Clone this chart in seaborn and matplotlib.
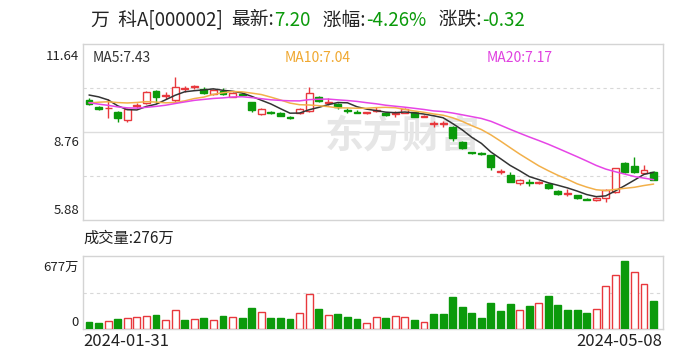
import numpy as np
import pandas as pd
import matplotlib
matplotlib.use("Agg")
from matplotlib import pyplot as plt
import seaborn as sns

# ---- data (60 trading days, 2024-01-31 .. 2024-05-08)
opens = [9.81, 9.57, 9.53, 9.40, 9.15, 9.61, 9.70, 10.11, 9.94, 9.81,
         10.18, 10.23, 10.17, 10.00, 10.11, 9.92, 10.00, 9.73, 9.35, 9.41,
         9.37, 9.25, 9.37, 9.45, 9.90, 9.71, 9.68, 9.48, 9.41, 9.37,
         9.46, 9.39, 9.35, 9.39, 9.40, 9.26, 9.02, 9.02, 8.93, 8.44,
         8.09, 8.07, 8.01, 7.45, 7.35, 7.08, 7.12, 7.10, 7.06, 6.84,
         6.74, 6.70, 6.57, 6.53, 6.59, 6.81, 7.74, 7.65, 7.41, 7.46]
closes = [9.68, 9.50, 9.55, 9.23, 9.50, 9.63, 10.08, 9.90, 9.96, 10.24,
          10.20, 10.26, 10.03, 10.13, 10.00, 10.05, 9.97, 9.48, 9.50, 9.39,
          9.28, 9.23, 9.50, 10.04, 9.78, 9.73, 9.57, 9.46, 9.39, 9.40,
          9.48, 9.32, 9.37, 9.50, 9.26, 9.29, 9.04, 9.04, 8.55, 8.23,
          8.07, 8.05, 7.62, 7.47, 7.13, 7.19, 7.10, 7.12, 6.94, 6.73,
          6.76, 6.59, 6.55, 6.59, 6.86, 7.57, 7.46, 7.46, 7.52, 7.20]
highs = [9.87, 9.61, 9.84, 9.45, 9.55, 9.71, 10.10, 10.13, 10.08, 10.55,
         10.28, 10.30, 10.22, 10.17, 10.19, 10.07, 10.04, 9.74, 9.55, 9.46,
         9.40, 9.30, 9.55, 10.24, 9.94, 9.86, 9.71, 9.54, 9.48, 9.43,
         9.58, 9.41, 9.46, 9.56, 9.41, 9.32, 9.12, 9.12, 8.96, 8.47,
         8.12, 8.11, 8.02, 7.55, 7.46, 7.22, 7.22, 7.16, 7.09, 6.86,
         6.88, 6.71, 6.60, 6.62, 6.88, 7.58, 7.79, 7.95, 7.68, 7.50]
lows = [9.64, 9.48, 9.22, 9.10, 9.10, 9.55, 9.68, 9.72, 9.83, 9.75,
        10.08, 10.17, 9.99, 9.97, 9.97, 9.91, 9.94, 9.42, 9.32, 9.35,
        9.27, 9.17, 9.35, 9.41, 9.75, 9.64, 9.50, 9.38, 9.37, 9.35,
        9.41, 9.28, 9.25, 9.37, 9.25, 9.24, 8.92, 8.92, 8.48, 8.20,
        8.04, 8.02, 7.52, 7.39, 7.11, 7.04, 6.99, 7.06, 6.91, 6.71,
        6.67, 6.57, 6.52, 6.50, 6.48, 6.78, 7.41, 7.43, 7.39, 7.19]
# 1 = red (up) candle, 0 = green
candle_up = [0, 0, 1, 0, 1, 1, 1, 0, 1, 1, 1, 1, 0, 1, 0, 1, 0, 0, 1, 0,
             0, 0, 1, 1, 0, 1, 0, 0, 0, 1, 1, 0, 1, 1, 0, 1, 1, 1, 0, 0,
             0, 0, 0, 1, 0, 1, 0, 1, 0, 0, 1, 0, 0, 1, 1, 1, 0, 0, 1, 0]
# volume, in 万 shares
volume = [67, 57, 83, 100, 107, 117, 133, 140, 90, 190,
          90, 100, 110, 90, 127, 117, 110, 213, 167, 110,
          110, 100, 160, 350, 200, 140, 150, 123, 100, 60,
          117, 110, 127, 117, 90, 67, 150, 150, 317, 217,
          160, 110, 260, 183, 250, 193, 233, 260, 333, 240,
          193, 193, 160, 200, 433, 533, 677, 567, 450, 276]
vol_up = [0, 0, 1, 0, 1, 1, 1, 0, 1, 1, 0, 1, 0, 1, 0, 1, 0, 0, 1, 0,
          0, 0, 1, 1, 0, 1, 0, 0, 0, 1, 1, 0, 1, 1, 0, 1, 0, 0, 0, 0,
          0, 0, 0, 0, 0, 1, 0, 1, 0, 0, 0, 0, 0, 1, 1, 1, 0, 1, 1, 0]
# closes before the window, only needed to start the moving averages
prior_closes = [10.45, 10.35, 10.25, 10.13, 9.80, 9.55, 9.30, 9.20, 9.12, 9.15,
                9.25, 9.40, 9.50, 9.63, 9.47, 9.80, 10.05, 10.20, 10.12]
first_date = "2024-01-31"
last_date = "2024-05-08"
price_ticks = [11.64, 8.76, 5.88]

RED = "#e8383d"
GREEN = "#0b9a0b"
MA_COLORS = {"MA5": "#333333", "MA10": "#f2b04a", "MA20": "#e645e6"}

sns.set_theme(style="white")
plt.rcParams["font.family"] = ["Noto Sans CJK SC", "DejaVu Sans"]

n = len(closes)
df = pd.DataFrame({"i": np.arange(n), "open": opens, "close": closes,
                   "high": highs, "low": lows, "up": candle_up,
                   "vol": volume, "vol_up": vol_up})
allc = pd.Series(prior_closes + closes)
ma = pd.DataFrame({"i": np.arange(n)})
for k in (5, 10, 20):
    ma["MA%d" % k] = allc.rolling(k).mean().iloc[-n:].values
ma_long = ma.melt(id_vars="i", var_name="ma", value_name="price")

W, H = 699, 350
fig = plt.figure(figsize=(W / 100, H / 100), dpi=100)
ax = fig.add_axes([83 / W, 1 - 220 / H, 580 / W, 176 / H])
axv = fig.add_axes([83 / W, 1 - 329 / H, 580 / W, 73 / H])

for a in (ax, axv):
    for s in a.spines.values():
        s.set_color("#d4d4d4")
        s.set_linewidth(1)
    a.set_xticks([])
    a.set_yticks([])
    a.set_xlim(-0.63, 59.98)

# price panel
ax.set_ylim(5.88, 11.64)
ax.axhline(8.76, color="#dddddd", lw=1, zorder=0)
for g in (10.20, 7.32):
    ax.axhline(g, color="#d8d8d8", lw=0.8, ls=(0, (3, 3)), zorder=0)

ax.text(0.55, 0.47, "东方财富", transform=ax.transAxes, fontsize=28,
        fontweight="bold", color="#e6e6e6", ha="center", va="center", zorder=0)

bw = 0.72
for r in df.itertuples():
    col = RED if r.up else GREEN
    top, bot = max(r.open, r.close), min(r.open, r.close)
    h = max(top - bot, 0.012)
    ax.vlines(r.i, top, r.high, color=col, lw=1, zorder=3)
    ax.vlines(r.i, r.low, bot, color=col, lw=1, zorder=3)
    ax.bar(r.i, h, bottom=bot, width=bw, color="white" if r.up else col,
           edgecolor=col, linewidth=1, zorder=4)

sns.lineplot(data=ma_long, x="i", y="price", hue="ma", palette=MA_COLORS,
             linewidth=1.1, legend=False, ax=ax, zorder=5)
ax.set_xlabel("")
ax.set_ylabel("")
ax.set_xlim(-0.63, 59.98)

# volume panel
axv.set_ylim(0, 727)
axv.axhline(363.5, color="#d8d8d8", lw=0.8, ls=(0, (3, 3)), zorder=0)
axv.bar(df["i"], df["vol"], width=bw,
        color=["white" if u else GREEN for u in vol_up],
        edgecolor=[RED if u else GREEN for u in vol_up], linewidth=1, zorder=3)
axv.set_xlim(-0.63, 59.98)

# texts
def px(x, y):
    return x / W, 1 - y / H

def row(x, y, parts, size):
    r = fig.canvas.get_renderer()
    for s, c in parts:
        t = fig.text(*px(x, y), s, color=c, fontsize=size, ha="left", va="center")
        x += t.get_window_extent(r).width

row(91, 20, [("万  科A[000002]  ", "#222222"), ("最新:", "#222222"), ("7.20", GREEN),
             ("   涨幅:", "#222222"), ("-4.26%", GREEN), ("   涨跌:", "#222222"),
             ("-0.32", GREEN)], 13.5)

fig.text(*px(93, 58), "MA5:7.43", color="#333333", fontsize=10, va="center")
fig.text(*px(285, 58), "MA10:7.04", color="#f0a830", fontsize=10, va="center")
fig.text(*px(487, 58), "MA20:7.17", color="#e040e0", fontsize=10, va="center")

for v, y in zip(price_ticks, (57, 142, 210)):
    fig.text(*px(79, y), "%.2f" % v, ha="right", va="center", fontsize=9.5, color="#222222")

fig.text(*px(83, 238), "成交量:276万", fontsize=11, va="center", color="#222222")
fig.text(*px(79, 267), "677万", ha="right", va="center", fontsize=9.5, color="#222222")
fig.text(*px(79, 322), "0", ha="right", va="center", fontsize=9.5, color="#222222")

fig.text(*px(83, 341), first_date, ha="left", va="center", fontsize=12, color="#222222")
fig.text(*px(662, 341), last_date, ha="right", va="center", fontsize=12, color="#222222")

fig.savefig("out.png", dpi=100, facecolor="white")
